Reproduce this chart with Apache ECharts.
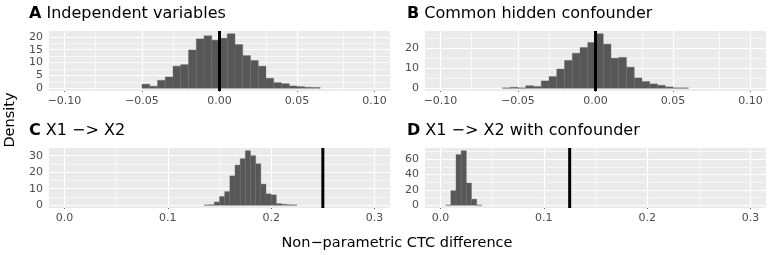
<!DOCTYPE html>
<html><head><meta charset="utf-8">
<script src="https://cdn.jsdelivr.net/npm/echarts@6/dist/echarts.min.js"></script>
<style>html,body{margin:0;padding:0;background:#fff}#c{width:772px;height:255px}</style>
</head><body><div id="c"></div>
<script>
// ---- data ----
const binWidth = 0.005;
const panelLetters = ['A', 'B', 'C', 'D'];
const panelTitles = ['Independent variables', 'Common hidden confounder', 'X1 \u2212> X2', 'X1 \u2212> X2 with confounder'];
const binStartA = -0.05;
const densityA = [1.6, 0.8, 3.1, 4.4, 8.6, 9.2, 14.9, 19.2, 20.4, 18.7, 19.5, 21.2, 17.0, 12.7, 10.8, 8.6, 3.9, 2.2, 1.8, 0.9, 0.65, 0.4, 0.3];
const binStartB = -0.06;
const densityB = [0.2, 0.5, 0.2, 1.3, 0.9, 3.7, 5.9, 9.7, 14.0, 17.6, 20.5, 23.0, 27.4, 22.2, 15.1, 15.5, 10.6, 5.2, 3.4, 2.2, 1.5, 0.7, 0.2, 0.2];
const binStartC = 0.135;
const densityC = [0.2, 0.3, 2.0, 5.3, 8.3, 17.8, 24.3, 28.2, 33.0, 30.0, 25.1, 12.8, 6.9, 6.3, 1.0, 0.6, 0.3, 0.2];
const binStartD = 0.005;
const densityD = [0.3, 19, 66, 71, 29, 8, 0.3];
const observedValues = [0, 0, 0.25, 0.125];
const xTicksTop = [-0.1, -0.05, 0, 0.05, 0.1];
const xTickLabelsTop = ['\u22120.10', '\u22120.05', '0.00', '0.05', '0.10'];
const xTicksBottom = [0, 0.1, 0.2, 0.3];
const xTickLabelsBottom = ['0.0', '0.1', '0.2', '0.3'];
const yTicksA = [0, 5, 10, 15, 20];
const yTicksB = [0, 10, 20];
const yTicksC = [0, 10, 20, 30];
const yTicksD = [0, 20, 40, 60];
const xAxisTitle = 'Non\u2212parametric CTC difference';
const yAxisTitle = 'Density';

// ---- layout ----
const FONT = '"DejaVu Sans", sans-serif';
const grids = [
  {left: 49, top: 31, width: 341, height: 60},
  {left: 425, top: 31, width: 341, height: 60},
  {left: 49, top: 148, width: 341, height: 60},
  {left: 425, top: 148, width: 341, height: 60}
];
const xLimitsTop = [-0.11, 0.11];
const xLimitsBottom = [-0.015, 0.315];
const titleLeft = [29, 407, 29, 407];
const titleTop = [6, 6, 123, 123];

const panels = [
  {start: binStartA, dens: densityA, xt: xTicksTop, xl: xTickLabelsTop, xlim: xLimitsTop, yt: yTicksA},
  {start: binStartB, dens: densityB, xt: xTicksTop, xl: xTickLabelsTop, xlim: xLimitsTop, yt: yTicksB},
  {start: binStartC, dens: densityC, xt: xTicksBottom, xl: xTickLabelsBottom, xlim: xLimitsBottom, yt: yTicksC},
  {start: binStartD, dens: densityD, xt: xTicksBottom, xl: xTickLabelsBottom, xlim: xLimitsBottom, yt: yTicksD}
];

function minorBreaks(ticks, lo, hi) {
  const step = ticks[1] - ticks[0];
  const ext = [ticks[0] - step].concat(ticks, [ticks[ticks.length - 1] + step]);
  const out = [];
  for (let i = 0; i < ext.length - 1; i++) {
    const m = (ext[i] + ext[i + 1]) / 2;
    if (m > lo && m < hi) out.push(m);
  }
  return out;
}

const option = {
  animation: false,
  backgroundColor: '#ffffff',
  textStyle: {fontFamily: FONT},
  grid: grids.map(g => Object.assign({show: true, backgroundColor: '#EBEBEB', borderWidth: 0}, g)),
  xAxis: [], yAxis: [], series: [], graphic: []
};

panels.forEach((p, i) => {
  const ymax = Math.max.apply(null, p.dens);
  const ylim = [-0.05 * ymax, 1.05 * ymax];
  option.xAxis.push({
    type: 'value', gridIndex: i, min: p.xlim[0], max: p.xlim[1],
    axisLine: {show: false}, splitLine: {show: false},
    axisTick: {show: true, customValues: p.xt, length: 3.5, lineStyle: {color: '#333333', width: 1}},
    axisLabel: {customValues: p.xt, margin: 5, color: '#4D4D4D', fontSize: 11, fontFamily: FONT,
      formatter: v => { const k = p.xt.findIndex(t => Math.abs(t - v) < 1e-9); return k >= 0 ? p.xl[k] : ''; }}
  });
  option.yAxis.push({
    type: 'value', gridIndex: i, min: ylim[0], max: ylim[1],
    axisLine: {show: false}, splitLine: {show: false},
    axisTick: {show: true, customValues: p.yt, length: 3.5, lineStyle: {color: '#333333', width: 1}},
    axisLabel: {customValues: p.yt, margin: 6, color: '#4D4D4D', fontSize: 11, fontFamily: FONT,
      formatter: v => String(Math.round(v))}
  });
  const gl = [];
  minorBreaks(p.xt, p.xlim[0], p.xlim[1]).forEach(v => gl.push({xAxis: v, lineStyle: {width: 0.6}}));
  minorBreaks(p.yt, ylim[0], ylim[1]).forEach(v => gl.push({yAxis: v, lineStyle: {width: 0.6}}));
  p.xt.forEach(v => gl.push({xAxis: v, lineStyle: {width: 1.2}}));
  p.yt.forEach(v => gl.push({yAxis: v, lineStyle: {width: 1.2}}));
  option.series.push({
    type: 'line', xAxisIndex: i, yAxisIndex: i, data: [], z: 1, silent: true,
    markLine: {silent: true, z: 1, symbol: ['none', 'none'], label: {show: false}, animation: false,
      lineStyle: {color: '#ffffff', type: 'solid'}, emphasis: {disabled: true}, data: gl}
  });
  const bins = p.dens.map((d, k) => [p.start + k * binWidth, p.start + (k + 1) * binWidth, d]);
  option.series.push({
    type: 'custom', xAxisIndex: i, yAxisIndex: i, z: 10, silent: true,
    encode: {x: [0, 1], y: 2},
    data: bins,
    renderItem: (params, api) => {
      const a = api.coord([api.value(0), 0]);
      const b = api.coord([api.value(1), api.value(2)]);
      return {type: 'rect', shape: {x: a[0], y: b[1], width: b[0] - a[0], height: a[1] - b[1]},
        style: {fill: '#575757', stroke: '#6a6a6a', lineWidth: 0.4}};
    }
  });
  option.series.push({
    type: 'line', xAxisIndex: i, yAxisIndex: i, z: 20, silent: true, symbol: 'none',
    data: [[observedValues[i], ylim[0]], [observedValues[i], ylim[1]]],
    lineStyle: {color: '#000000', width: 3}
  });
  option.graphic.push({
    type: 'text', left: titleLeft[i], top: titleTop[i],
    style: {text: '{b|' + panelLetters[i] + '} ' + panelTitles[i], fill: '#000', font: '16px ' + FONT,
      rich: {b: {fontWeight: 'bold', fontSize: 16, fontFamily: FONT, fill: '#000'}}}
  });
});

option.graphic.push({
  type: 'text', x: 397, y: 243,
  style: {text: xAxisTitle, fill: '#000', font: '14.5px ' + FONT, align: 'center', verticalAlign: 'middle'}
});
option.graphic.push({
  type: 'text', x: 10, y: 120, rotation: Math.PI / 2,
  style: {text: yAxisTitle, fill: '#000', font: '14.5px ' + FONT, align: 'center', verticalAlign: 'middle'}
});

const chart = echarts.init(document.getElementById('c'), null, {renderer: 'canvas'});
chart.setOption(option);
</script></body></html>
